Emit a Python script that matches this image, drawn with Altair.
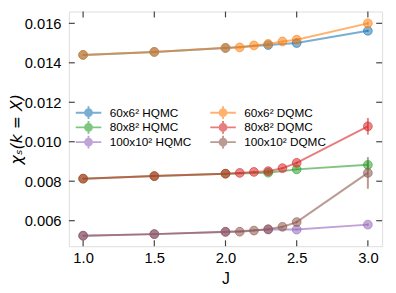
import altair as alt
import pandas as pd

# ---- data ----
J_H = [1.0, 1.5, 2.0, 2.3, 2.5, 3.0]
J_D = [1.0, 1.5, 2.0, 2.1, 2.2, 2.3, 2.4, 2.5, 3.0]

h60 = [0.01440, 0.01455, 0.01475, 0.01490, 0.01500, 0.01562]
h60_err = [0.00002, 0.00002, 0.00002, 0.00003, 0.00003, 0.00006]
h80 = [0.00813, 0.00826, 0.00838, 0.00843, 0.00860, 0.00883]
h80_err = [0.00002, 0.00002, 0.00002, 0.00003, 0.00003, 0.00018]
h100 = [0.00524, 0.00532, 0.00543, 0.00555, 0.00555, 0.00580]
h100_err = [0.00002, 0.00002, 0.00002, 0.00003, 0.00003, 0.00006]

d60 = [0.01440, 0.01455, 0.01476, 0.01478, 0.01488, 0.01496, 0.01508, 0.01517, 0.01600]
d60_err = [0.00002, 0.00002, 0.00002, 0.00002, 0.00003, 0.00003, 0.00003, 0.00004, 0.00008]
d80 = [0.00813, 0.00826, 0.00838, 0.00842, 0.00847, 0.00851, 0.00866, 0.00893, 0.01078]
d80_err = [0.00002, 0.00002, 0.00002, 0.00002, 0.00003, 0.00003, 0.00004, 0.00006, 0.00042]
d100 = [0.00524, 0.00532, 0.00544, 0.00544, 0.00550, 0.00557, 0.00569, 0.00593, 0.00842]
d100_err = [0.00002, 0.00002, 0.00002, 0.00002, 0.00003, 0.00003, 0.00004, 0.00006, 0.00080]

series_names = ["60x6² HQMC", "80x8² HQMC", "100x10² HQMC",
                "60x6² DQMC", "80x8² DQMC", "100x10² DQMC"]
series_colors = ["#1f77b4", "#2ca02c", "#9467bd", "#ff7f0e", "#d62728", "#8c564b"]

x_ticks = [1.0, 1.5, 2.0, 2.5, 3.0]
y_ticks = [0.006, 0.008, 0.010, 0.012, 0.014, 0.016]

rows = []
for name, js, vals, errs in [
    (series_names[0], J_H, h60, h60_err),
    (series_names[1], J_H, h80, h80_err),
    (series_names[2], J_H, h100, h100_err),
    (series_names[3], J_D, d60, d60_err),
    (series_names[4], J_D, d80, d80_err),
    (series_names[5], J_D, d100, d100_err),
]:
    for j, v, e in zip(js, vals, errs):
        rows.append({"series": name, "J": j, "v": v, "lo": v - e, "hi": v + e})
df = pd.DataFrame(rows)
xt_df = pd.DataFrame({"J": x_ticks})
yt_df = pd.DataFrame({"v": y_ticks})

W, H = 319, 239
TL = 6  # inward tick length

cscale = alt.Scale(domain=series_names, range=series_colors)
xscale = alt.Scale(domain=[0.9, 3.1], nice=False, zero=False)
yscale = alt.Scale(domain=[0.004706, 0.016597], nice=False, zero=False)

FONT = "Liberation Sans"
TICKC = "#444444"

ax_bottom = alt.Axis(orient="bottom", ticks=False, domain=False, grid=False,
                     values=x_ticks, format=".1f",
                     labelFont=FONT, labelFontSize=15, labelColor="black", labelPadding=5,
                     labelFlush=False, title="J", titleFont=FONT, titleFontSize=16,
                     titleFontWeight="normal", titleColor="black", titlePadding=5)
ax_left = alt.Axis(orient="left", ticks=False, domain=False, grid=False,
                   values=y_ticks, format=".3f",
                   labelFont=FONT, labelFontSize=15, labelColor="black", labelPadding=8,
                   labelFlush=False, title="χₛ(k = X)", titleFont="DejaVu Sans",
                   titleFontStyle="italic", titleFontSize=16, titleFontWeight="normal",
                   titleColor="black", titleAngle=270, titleBaseline="middle",
                   titleAlign="center", titleX=-53, titleY=H / 2)

X = alt.X("J:Q", scale=xscale, axis=ax_bottom)
Y = alt.Y("v:Q", scale=yscale, axis=ax_left)

sym = ("M-2,-0.15L2,-0.15L2,0.15L-2,0.15Z "
       "M0.69,0A0.69,0.69 0 1 1 -0.69,0A0.69,0.69 0 1 1 0.69,0Z "
       "M-0.15,-1L0.15,-1L0.15,1L-0.15,1Z")

legend = alt.Legend(orient="none", legendX=13.5, legendY=96.5, columns=2, title=None,
                    symbolType=sym, symbolSize=169, symbolOpacity=0.6, symbolStrokeWidth=0,
                    labelFont=FONT, labelFontSize=12, labelColor="black", labelOffset=15,
                    rowPadding=2, columnPadding=18, padding=0)

base = alt.Chart(df)

# invisible layer that carries the legend
legend_layer = base.mark_point(filled=True, shape="circle", opacity=0).encode(
    x=X, y=Y,
    color=alt.Color("series:N", scale=cscale, legend=legend),
)

lines = base.mark_line(strokeWidth=2, opacity=0.6).encode(
    x=X, y=Y,
    color=alt.Color("series:N", scale=cscale, legend=None),
)

errbars = base.mark_rule(strokeWidth=2, opacity=0.6).encode(
    x=X,
    y=alt.Y("lo:Q", scale=yscale, axis=ax_left),
    y2="hi:Q",
    color=alt.Color("series:N", scale=cscale, legend=None),
)

points = base.mark_point(filled=True, shape="circle", size=80, fillOpacity=0.55,
                         strokeOpacity=0.6, strokeWidth=1).encode(
    x=X, y=Y,
    color=alt.Color("series:N", scale=cscale, legend=None),
    stroke=alt.Stroke("series:N", scale=cscale, legend=None),
)

# inward ticks on all four sides
tick_style = dict(color=TICKC, strokeWidth=1.2)
xt_bottom = alt.Chart(xt_df).mark_rule(**tick_style).encode(
    x=X, y=alt.value(H - TL), y2=alt.value(H))
xt_top = alt.Chart(xt_df).mark_rule(**tick_style).encode(
    x=X, y=alt.value(0), y2=alt.value(TL))
yt_left = alt.Chart(yt_df).mark_rule(**tick_style).encode(
    y=Y, x=alt.value(0), x2=alt.value(TL))
yt_right = alt.Chart(yt_df).mark_rule(**tick_style).encode(
    y=Y, x=alt.value(W - TL), x2=alt.value(W))

chart = alt.layer(
    legend_layer, lines, errbars, points, xt_bottom, xt_top, yt_left, yt_right
).properties(
    width=W, height=H,
    autosize=alt.AutoSizeParams(type="none"),
    padding={"left": 62, "top": 1, "right": 6, "bottom": 44},
).configure_view(
    stroke=TICKC, strokeWidth=1.5
).configure(background="white")

chart.save("out.html", embed_options={"renderer": "svg", "actions": False})
